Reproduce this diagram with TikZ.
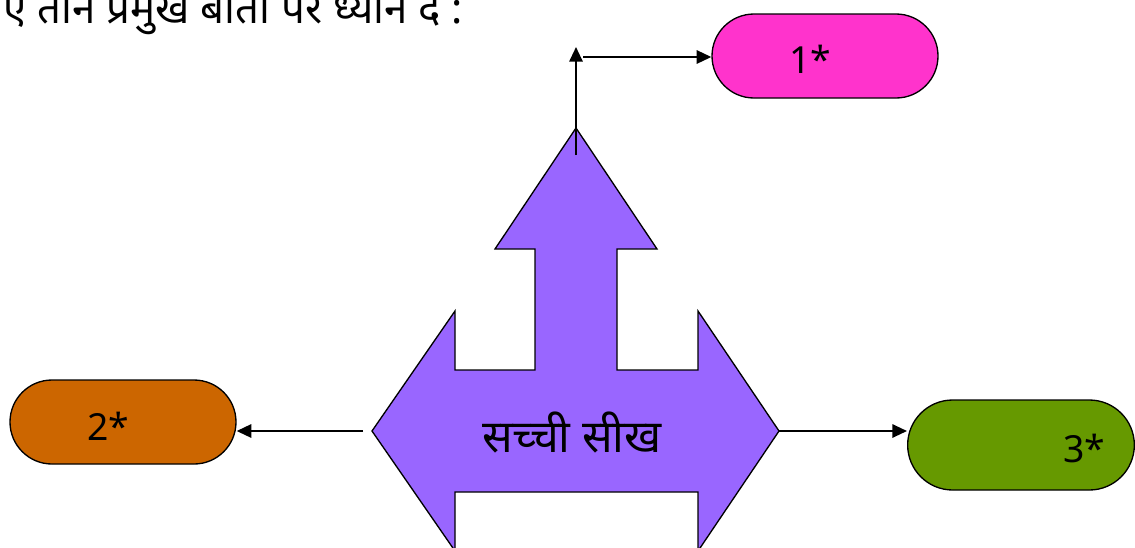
\documentclass[tikz,border=0pt]{standalone}
\usepackage{fontspec}
\setmainfont{Noto Sans}
\newfontfamily\hindi[Script=Devanagari]{Noto Sans}
\usetikzlibrary{positioning,arrows.meta,shapes.misc}
\definecolor{arrowviolet}{HTML}{9966FF}
\definecolor{boxpink}{HTML}{FF33CC}
\definecolor{boxorange}{HTML}{CC6600}
\definecolor{boxgreen}{HTML}{669900}

\begin{document}
\begin{tikzpicture}[x=0.75pt,y=-0.75pt,>={Triangle[length=11pt,width=10pt]},
   box/.style={rounded rectangle,draw,line width=1pt,minimum width=169.5pt,
      minimum height=63pt,inner sep=0pt},
   link/.style={->,line width=1.5pt},
   num/.style={inner sep=0pt,font=\fontsize{28}{32}\selectfont}]
\useasboundingbox (0,0) rectangle (1135,547);
\clip (0,0) rectangle (1135,547);
% heading line, cut by the frame
\node[anchor=base west,inner sep=0pt,font=\hindi\fontsize{31.5}{36}\selectfont] (head) at (3,23)
   {ए तीन प्रमुख बातों पर ध्यान दें :};
% three-way arrow
\filldraw[fill=arrowviolet,line width=1pt,line join=miter]
   (576,128) -- (657,249) -- (617,249) -- (617,370) -- (698,370) -- (698,311)
   -- (779,431) -- (698,551) -- (698,492) -- (455,492) -- (455,551)
   -- (372,431) -- (455,311) -- (455,370) -- (535,370) -- (535,249)
   -- (495,249) -- cycle;
\node[inner sep=0pt,font=\hindi\fontsize{34}{40}\selectfont] (learn) at (572,432) {सच्ची सीख};
% boxes
\node[box,fill=boxpink] (b1) at (825,56) {};
\node[box,fill=boxorange] (b2) at (123,422) {};
\node[box,fill=boxgreen,minimum height=67.5pt,minimum width=170pt] (b3) at (1021,445) {};
\node[num] (t1) at (810,59) {1*};
\node[num] (t2) at (108,426) {2*};
\node[num] (t3) at (1084,448) {3*};
% connectors
\coordinate (up) at (576,155);
\coordinate (upend) at (576,47);
\coordinate (elbow) at (583,57);
\coordinate (ltip) at (363,431);
\coordinate (rtip) at (779,431);
\draw[link] (up) -- (upend);
\draw[link] (elbow) -- (elbow -| b1.west);
\draw[link] (ltip) -- (ltip -| b2.east);
\draw[link] (rtip) -- (rtip -| b3.west);
\end{tikzpicture}
\end{document}
